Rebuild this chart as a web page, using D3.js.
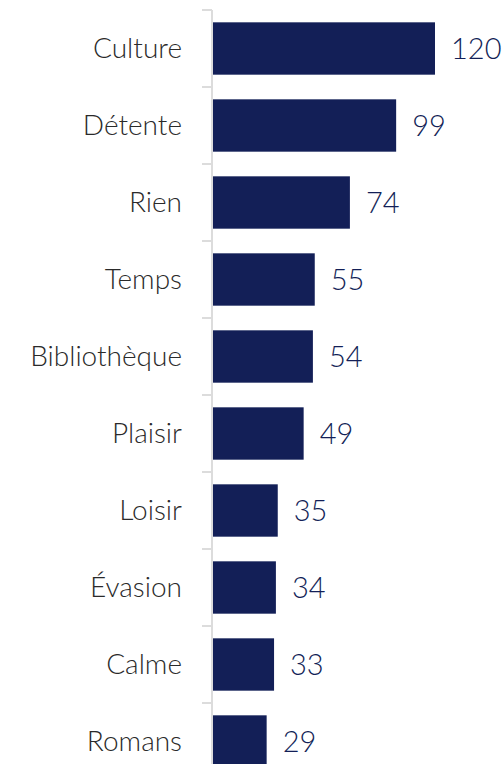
<!DOCTYPE html>
<html>
<head>
<meta charset="utf-8">
<script src="https://cdn.jsdelivr.net/npm/d3@7"></script>
<style>
  body { margin: 0; background: #fff; overflow: hidden; }
  text { font-family: Lato, "Noto Sans", sans-serif; font-weight: 300; }
</style>
</head>
<body>
<div id="chart"></div>
<script>
// categories and values
var categories = ["Culture", "Détente", "Rien", "Temps", "Bibliothèque", "Plaisir", "Loisir", "Évasion", "Calme", "Romans"];
var values = [120, 99, 74, 55, 54, 49, 35, 34, 33, 29];

var data = categories.map(function(c, i) { return {name: c, value: values[i]}; });

var margin = {top: 10, right: 0, bottom: 0, left: 213},
    width = 503 - margin.left,
    height = 770;

var svg = d3.select("#chart")
  .append("svg")
  .attr("width", 503)
  .attr("height", 764)
  .append("g")
  .attr("transform", `translate(${margin.left}, ${margin.top})`);

var y = d3.scaleBand()
  .domain(categories)
  .range([0, height])
  .paddingInner(0.32)
  .paddingOuter(0.16);

var x = d3.scaleLinear()
  .domain([0, 120])
  .range([0, 222]);

// axis line and ticks between categories
var step = y.step();
svg.append("line")
  .attr("x1", -1).attr("x2", -1)
  .attr("y1", 0).attr("y2", height)
  .attr("stroke", "#dcdcdc")
  .attr("stroke-width", 2);

svg.selectAll(".tick")
  .data(d3.range(categories.length + 1))
  .enter().append("line")
  .attr("x1", -11).attr("x2", -1)
  .attr("y1", function(d) { return d * step; })
  .attr("y2", function(d) { return d * step; })
  .attr("stroke", "#dcdcdc")
  .attr("stroke-width", 2);

// bars
svg.selectAll(".bar")
  .data(data)
  .enter().append("rect")
  .attr("x", 0)
  .attr("y", function(d) { return y(d.name); })
  .attr("width", function(d) { return x(d.value); })
  .attr("height", y.bandwidth())
  .attr("fill", "#131f57");

// category labels
svg.selectAll(".label")
  .data(data)
  .enter().append("text")
  .attr("x", -31)
  .attr("y", function(d) { return y(d.name) + y.bandwidth() / 2; })
  .attr("dy", "0.35em")
  .attr("text-anchor", "end")
  .attr("fill", "#2a2a2a")
  .style("font-size", "28px")
  .text(function(d) { return d.name; });

// value labels
svg.selectAll(".value")
  .data(data)
  .enter().append("text")
  .attr("x", function(d) { return x(d.value) + 16; })
  .attr("y", function(d) { return y(d.name) + y.bandwidth() / 2; })
  .attr("dy", "0.35em")
  .attr("fill", "#131f57")
  .style("font-size", "29px")
  .text(function(d) { return d.value; });
</script>
</body>
</html>
